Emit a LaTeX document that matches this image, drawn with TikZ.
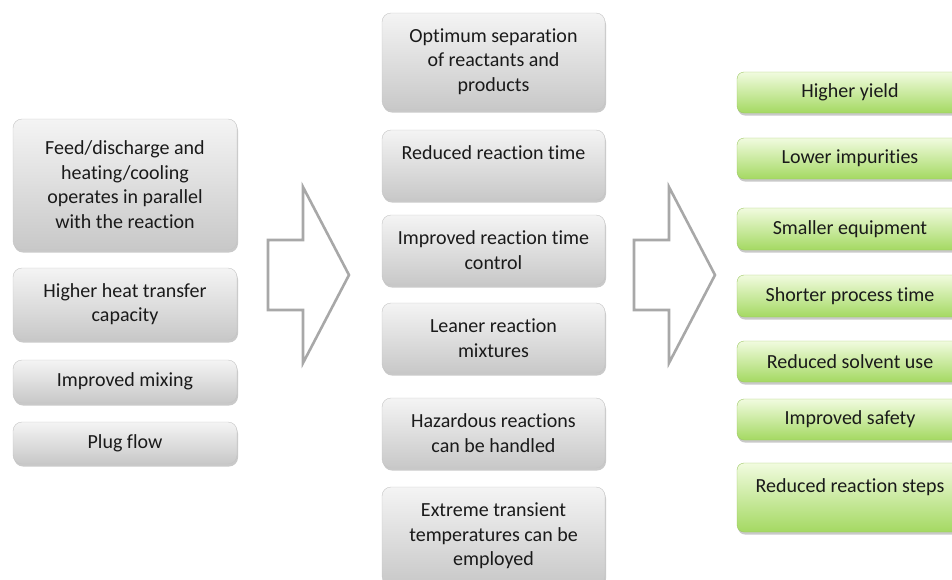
\documentclass[tikz,border=0pt]{standalone}
\usepackage{fontspec}
\setmainfont{Carlito}[Ligatures={NoCommon}]
\usetikzlibrary{shadows,positioning}
\definecolor{grytop}{HTML}{F4F4F4}
\definecolor{grybot}{HTML}{C8C8C8}
\definecolor{grylin}{HTML}{C4C4C4}
\definecolor{grntop}{HTML}{F1FBDF}
\definecolor{grnbot}{HTML}{A4D962}
\definecolor{grnlin}{HTML}{9CC663}
\definecolor{arrlin}{HTML}{A8A8A8}
\definecolor{txtcol}{HTML}{1A1A1A}
\tikzset{
mybox/.style={
  rectangle,
  rounded corners=9pt,
  align=center,
  inner sep=2pt,
  font=\fontsize{20}{24.5}\selectfont,
  text=txtcol,
  drop shadow={shadow xshift=1pt,shadow yshift=-2.5pt,
               opacity=0.3,fill=black!70}
  },
grybox/.style={mybox,draw=grylin,top color=grytop,bottom color=grybot,
  minimum width=224pt},
grnbox/.style={mybox,draw=grnlin,top color=grntop,bottom color=grnbot,
  minimum width=226pt,rounded corners=7pt},
blkarrow/.style={draw=arrlin,line width=2.6pt,fill=white,line join=miter}
}
\begin{document}
\begin{tikzpicture}[x=1pt,y=-1pt]
\clip (0,0) rectangle (952,579);

% left column
\node[grybox,minimum height=131] (feed) at (125,184.5)
  {Feed/discharge and\\heating/cooling\\operates in parallel\\with the reaction};
\node[grybox,minimum height=72] (heat) at (125,304)
  {Higher heat transfer\\capacity};
\node[grybox,minimum height=43] (mix) at (125,381.5) {Improved mixing};
\node[grybox,minimum height=42] (plug) at (125,443) {Plug flow};

% middle column
\node[grybox,minimum width=223pt,minimum height=97] (sep) at (493.5,61.5)
  {Optimum separation\\of reactants and\\products};
\node[grybox,minimum width=223pt,minimum height=70] (time) at (493.5,165)
  {Reduced reaction time\\~};
\node[grybox,minimum width=223pt,minimum height=70] (ctrl) at (493.5,250)
  {Improved reaction time\\control};
\node[grybox,minimum width=223pt,minimum height=70] (lean) at (493.5,338)
  {Leaner reaction\\mixtures};
\node[grybox,minimum width=223pt,minimum height=70] (haz) at (493.5,433)
  {Hazardous reactions\\can be handled};
\node[grybox,minimum width=223pt,minimum height=98] (temp) at (493.5,536)
  {Extreme transient\\temperatures can be\\employed};

% right column
\node[grnbox,minimum height=41] (yield) at (850,92.5) {Higher yield};
\node[grnbox,minimum height=41] (impur) at (850,158.5) {Lower impurities};
\node[grnbox,minimum height=42] (equip) at (850,229) {Smaller equipment};
\node[grnbox,minimum height=42] (proc) at (850,296) {Shorter process time};
\node[grnbox,minimum height=41] (solv) at (850,361.5) {Reduced solvent use};
\node[grnbox,minimum height=41] (safe) at (850,419.5) {Improved safety};
\node[grnbox,minimum height=69] (steps) at (850,497.5)
  {Reduced reaction steps\\~};

% block arrows
\foreach \dx in {0,366}
  \draw[blkarrow] (268+\dx,240) -- (303+\dx,240) -- (303+\dx,187)
    -- (349+\dx,275) -- (303+\dx,363) -- (303+\dx,310)
    -- (268+\dx,310) -- cycle;

\end{tikzpicture}
\end{document}
